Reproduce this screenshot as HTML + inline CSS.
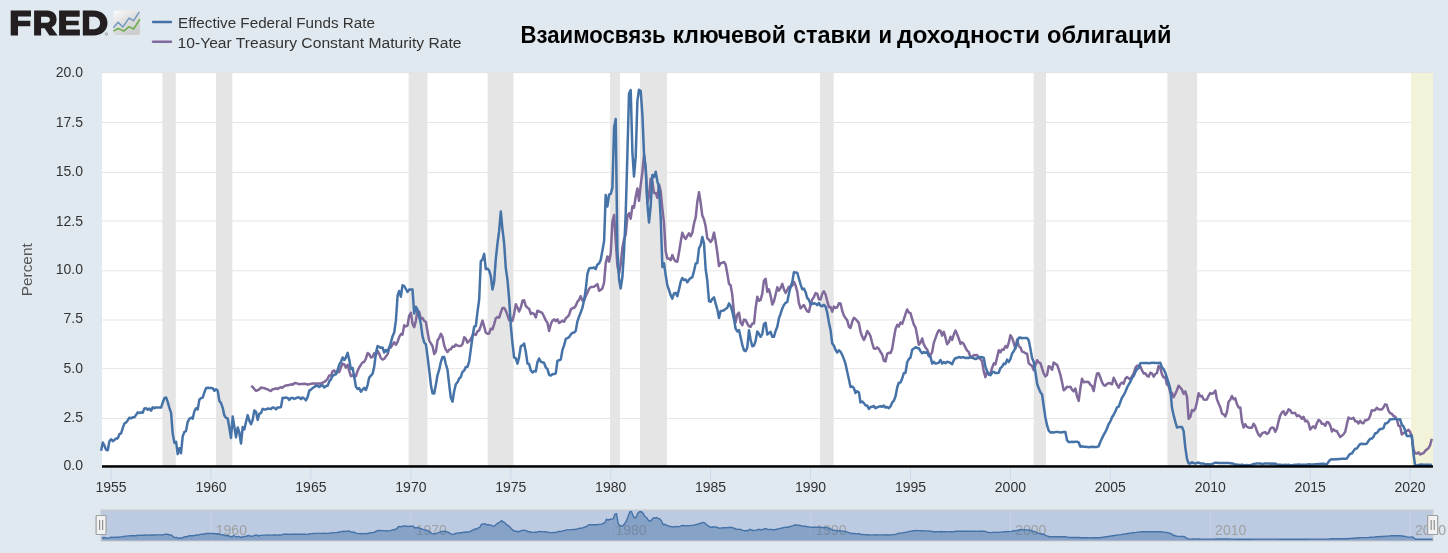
<!DOCTYPE html>
<html><head><meta charset="utf-8"><style>
html,body{margin:0;padding:0;background:#e1e9f0;width:1448px;height:553px;overflow:hidden}
svg{display:block;will-change:transform}
text{font-family:"Liberation Sans",sans-serif}
.ax{font-size:14px;fill:#333333}
.yt{font-size:15px;fill:#555555}
.nav{font-size:14px;fill:#a0a0a0}
.lg{font-size:15.5px;fill:#333333}
.title{font-size:23px;font-weight:bold;fill:#000000}
</style></head><body>
<svg width="1448" height="553" viewBox="0 0 1448 553">

<g fill="#231f20">
 <path d="M10.7 10.4 H31 V16.6 H18 V20.8 H30.3 V26.2 H18 V35.4 H10.7 Z"/>
 <path d="M34.1 10.4 H47 C53.2 10.4 56.6 14 56.6 19.4 C56.6 23.2 54.6 26 51.6 27.2 L57.6 35.4 H49.4 L44.6 28.3 H41.1 V35.4 H34.1 Z M41.1 16.7 V22.7 H46.4 C48.7 22.7 49.9 21.5 49.9 19.7 C49.9 17.9 48.7 16.7 46.4 16.7 Z"/>
 <path d="M59.1 10.4 H79.7 V16.7 H66.1 V20.8 H78.7 V25.3 H66.1 V29.4 H79.9 V35.4 H59.1 Z"/>
 <path d="M82.8 10.4 H93.5 C101.8 10.4 107.5 15.5 107.5 22.9 C107.5 30.3 101.8 35.4 93.5 35.4 H82.8 Z M89.2 16.7 V29.3 H93.2 C97.4 29.3 100.1 26.8 100.1 23 C100.1 19.2 97.4 16.7 93.2 16.7 Z"/>
</g>
<circle cx="106.4" cy="33.9" r="1.2" fill="none" stroke="#8a8a8a" stroke-width="0.7"/>
<defs><linearGradient id="ig" x1="0" y1="0" x2="0.6" y2="1"><stop offset="0" stop-color="#fbfbfb"/><stop offset="0.55" stop-color="#dedede"/><stop offset="1" stop-color="#cdcdcd"/></linearGradient></defs>
<rect x="113.4" y="10.4" width="26.6" height="24.6" rx="2.2" fill="url(#ig)"/>
<polyline points="113.4,27.8 118.1,22.3 122.8,27.1 129,18.1 133.6,20.7 139.3,11.9" fill="none" stroke="#6f98c0" stroke-width="1.4" stroke-linejoin="round"/>
<polyline points="113.4,31.1 118.1,28.5 123.8,31.1 129,26.7 133.6,29 139.9,19.2" fill="none" stroke="#6fae4f" stroke-width="1.6" stroke-linejoin="round"/>

<line x1="153" y1="22" x2="171" y2="22" stroke="#4572A7" stroke-width="2.4" stroke-linecap="round"/>
<line x1="153" y1="41.8" x2="171" y2="41.8" stroke="#80699B" stroke-width="2.4" stroke-linecap="round"/>
<text x="178" y="27.9" class="lg" textLength="197" lengthAdjust="spacingAndGlyphs">Effective Federal Funds Rate</text>
<text x="177.5" y="47.7" class="lg" textLength="284" lengthAdjust="spacingAndGlyphs">10-Year Treasury Constant Maturity Rate</text>
<text x="520.50" y="42.7" class="title" textLength="145.20" lengthAdjust="spacingAndGlyphs">Взаимосвязь</text>
<text x="672.50" y="42.7" class="title" textLength="113.30" lengthAdjust="spacingAndGlyphs">ключевой</text>
<text x="792.90" y="42.7" class="title" textLength="78.30" lengthAdjust="spacingAndGlyphs">ставки</text>
<text x="878.40" y="42.7" class="title" textLength="13.50" lengthAdjust="spacingAndGlyphs">и</text>
<text x="896.90" y="42.7" class="title" textLength="143.10" lengthAdjust="spacingAndGlyphs">доходности</text>
<text x="1047.10" y="42.7" class="title" textLength="124.30" lengthAdjust="spacingAndGlyphs">облигаций</text>

<rect x="102" y="72.9" width="1331" height="393.6" fill="#ffffff"/>
<rect x="102" y="122.0" width="1331" height="1" fill="#e6e6e6"/>
<rect x="102" y="172.0" width="1331" height="1" fill="#e6e6e6"/>
<rect x="102" y="220.5" width="1331" height="1" fill="#e6e6e6"/>
<rect x="102" y="270.3" width="1331" height="1" fill="#e6e6e6"/>
<rect x="102" y="319.5" width="1331" height="1" fill="#e6e6e6"/>
<rect x="102" y="368.1" width="1331" height="1" fill="#e6e6e6"/>
<rect x="102" y="418.0" width="1331" height="1" fill="#e6e6e6"/>
<rect x="162.40" y="72.9" width="13.40" height="393.6" fill="#e5e5e5"/>
<rect x="216.10" y="72.9" width="16.20" height="393.6" fill="#e5e5e5"/>
<rect x="408.60" y="72.9" width="18.90" height="393.6" fill="#e5e5e5"/>
<rect x="487.60" y="72.9" width="25.85" height="393.6" fill="#e5e5e5"/>
<rect x="610.06" y="72.9" width="9.94" height="393.6" fill="#e5e5e5"/>
<rect x="640.06" y="72.9" width="26.90" height="393.6" fill="#e5e5e5"/>
<rect x="819.95" y="72.9" width="13.75" height="393.6" fill="#e5e5e5"/>
<rect x="1033.70" y="72.9" width="12.30" height="393.6" fill="#e5e5e5"/>
<rect x="1167.40" y="72.9" width="29.70" height="393.6" fill="#e5e5e5"/>
<rect x="1411.1" y="72.9" width="21.9" height="393.6" fill="#f3f3da"/>
<rect x="102" y="72.1" width="1331" height="1" fill="#e3e3e3"/>
<path d="M251.0 386.1 L252.7 386.9 L254.3 389.0 L256.0 390.8 L257.7 390.2 L259.3 389.4 L261.0 387.5 L262.7 388.1 L264.3 388.1 L266.0 389.0 L267.6 389.2 L269.3 390.4 L271.0 391.0 L272.6 389.2 L274.3 389.0 L276.0 388.3 L277.6 389.0 L279.3 387.9 L281.0 387.3 L282.6 387.7 L284.3 386.1 L286.0 385.5 L287.6 385.3 L289.3 385.1 L291.0 384.3 L292.6 384.7 L294.3 383.3 L296.0 383.1 L297.6 383.7 L299.3 384.3 L301.0 383.9 L302.6 383.9 L304.3 383.7 L306.0 383.9 L307.6 384.7 L309.3 384.1 L310.9 383.9 L312.6 383.5 L314.3 383.5 L315.9 383.7 L317.6 383.5 L319.3 383.5 L320.9 383.7 L322.6 382.7 L324.3 381.9 L325.9 380.8 L327.6 378.8 L329.3 375.4 L330.9 375.6 L332.6 371.3 L334.3 370.5 L335.9 372.9 L337.6 372.3 L339.3 371.7 L340.9 367.5 L342.6 363.6 L344.3 364.4 L345.9 367.7 L347.6 364.8 L349.3 371.1 L350.9 376.2 L352.6 375.2 L354.3 377.0 L355.9 376.0 L357.6 370.9 L359.2 367.5 L360.9 364.8 L362.6 362.4 L364.2 362.0 L365.9 358.5 L367.6 353.1 L369.2 354.1 L370.9 357.5 L372.6 356.9 L374.2 353.3 L375.9 355.3 L377.6 350.8 L379.2 353.7 L380.9 358.1 L382.6 359.6 L384.2 358.9 L385.9 356.5 L387.6 354.1 L389.2 347.6 L390.9 347.4 L392.6 344.5 L394.2 342.3 L395.9 344.8 L397.6 341.9 L399.2 337.0 L400.9 334.0 L402.5 334.6 L404.2 325.3 L405.9 326.5 L407.5 325.7 L409.2 315.6 L410.9 312.9 L412.5 323.7 L414.2 327.1 L415.9 320.8 L417.5 310.5 L419.2 311.9 L420.9 319.4 L422.5 318.0 L424.2 320.8 L425.9 322.0 L427.5 331.6 L429.2 340.5 L430.9 343.5 L432.5 346.0 L434.2 354.1 L435.9 351.6 L437.5 340.5 L439.2 337.9 L440.9 333.8 L442.5 336.8 L444.2 345.4 L445.8 349.6 L447.5 352.0 L449.2 349.6 L450.8 349.2 L452.5 346.6 L454.2 346.8 L455.8 344.5 L457.5 345.6 L459.2 346.0 L460.8 346.0 L462.5 344.1 L464.2 337.3 L465.8 338.7 L467.5 342.7 L469.2 341.1 L470.8 339.1 L472.5 335.6 L474.2 334.2 L475.8 335.0 L477.5 331.4 L479.2 330.4 L480.8 325.9 L482.5 320.6 L484.2 326.7 L485.8 332.6 L487.5 333.8 L489.1 333.6 L490.8 328.7 L492.5 329.3 L494.1 324.3 L495.8 318.4 L497.5 317.0 L499.1 317.8 L500.8 312.5 L502.5 307.9 L504.1 307.9 L505.8 310.7 L507.5 315.1 L509.1 320.0 L510.8 318.6 L512.5 320.8 L514.1 314.1 L515.8 304.2 L517.5 307.6 L519.1 311.5 L520.8 307.6 L522.5 300.8 L524.1 300.3 L525.8 306.0 L527.5 307.7 L529.1 308.7 L530.8 313.9 L532.5 312.9 L534.1 314.1 L535.8 317.4 L537.4 310.7 L539.1 311.5 L540.8 312.1 L542.4 313.3 L544.1 316.8 L545.8 320.4 L547.4 322.7 L549.1 331.0 L550.8 324.3 L552.4 320.8 L554.1 319.4 L555.8 321.2 L557.4 319.4 L559.1 322.9 L560.8 322.0 L562.4 320.6 L564.1 321.8 L565.8 318.2 L567.4 317.0 L569.1 314.9 L570.8 309.5 L572.4 308.1 L574.1 307.9 L575.8 305.8 L577.4 301.8 L579.1 299.7 L580.7 296.1 L582.4 300.6 L584.1 300.4 L585.7 296.1 L587.4 292.8 L589.1 288.8 L590.7 287.0 L592.4 287.0 L594.1 286.6 L595.7 285.5 L597.4 284.1 L599.1 290.8 L600.7 290.0 L602.4 288.4 L604.1 282.5 L605.7 263.4 L607.4 256.4 L609.1 261.6 L610.7 253.5 L612.4 221.7 L614.1 215.0 L615.7 240.3 L617.4 265.7 L619.1 273.6 L620.7 264.3 L622.4 247.6 L624.0 239.5 L625.7 234.7 L627.4 216.4 L629.0 213.2 L630.7 218.6 L632.4 206.3 L634.0 207.7 L635.7 196.7 L637.4 188.4 L639.0 200.8 L640.7 184.8 L642.4 171.8 L644.0 154.8 L645.7 167.6 L647.4 202.4 L649.0 195.9 L650.7 178.7 L652.4 181.9 L654.0 193.1 L655.7 192.9 L657.4 197.8 L659.0 184.4 L660.7 191.3 L662.4 208.9 L664.0 223.1 L665.7 251.3 L667.3 258.4 L669.0 258.6 L670.7 260.2 L672.3 255.1 L674.0 259.2 L675.7 261.4 L677.3 261.8 L679.0 252.5 L680.7 242.0 L682.3 232.8 L684.0 236.7 L685.7 238.9 L687.3 235.9 L689.0 233.2 L690.7 236.3 L692.3 233.0 L694.0 223.5 L695.7 217.4 L697.3 202.0 L699.0 192.3 L700.7 203.0 L702.3 215.6 L704.0 219.5 L705.7 226.6 L707.3 238.3 L709.0 239.7 L710.6 242.0 L712.3 239.5 L714.0 232.6 L715.6 241.1 L717.3 252.5 L719.0 266.1 L720.6 263.2 L722.3 262.8 L724.0 262.0 L725.6 264.5 L727.3 273.6 L729.0 283.9 L730.6 285.3 L732.3 294.9 L734.0 313.1 L735.6 322.5 L737.3 314.5 L739.0 312.7 L740.6 322.5 L742.3 325.1 L744.0 319.6 L745.6 320.0 L747.3 323.5 L749.0 326.3 L750.6 326.9 L752.3 323.5 L754.0 323.5 L755.6 308.3 L757.3 296.7 L758.9 300.8 L760.6 299.9 L762.3 293.7 L763.9 280.7 L765.6 278.7 L767.3 291.8 L768.9 289.2 L770.6 295.5 L772.3 304.6 L773.9 301.4 L775.6 294.5 L777.3 287.2 L778.9 290.6 L780.6 287.8 L782.3 283.9 L783.9 289.4 L785.6 292.9 L787.3 289.8 L788.9 286.8 L790.6 287.2 L792.3 285.6 L793.9 281.9 L795.6 285.5 L797.3 291.8 L798.9 303.2 L800.6 308.3 L802.2 306.6 L803.9 305.0 L805.6 308.5 L807.2 311.3 L808.9 311.9 L810.6 304.6 L812.2 299.5 L813.9 297.1 L815.6 293.1 L817.2 293.7 L818.9 299.3 L820.6 299.5 L822.2 293.9 L823.9 291.2 L825.6 294.5 L827.2 301.0 L828.9 307.2 L830.6 307.0 L832.2 311.7 L833.9 306.6 L835.6 307.9 L837.2 307.4 L838.9 303.2 L840.6 303.4 L842.2 310.7 L843.9 315.6 L845.5 318.0 L847.2 320.2 L848.9 326.7 L850.5 327.9 L852.2 321.8 L853.9 317.8 L855.5 319.0 L857.2 320.8 L858.9 323.3 L860.5 331.6 L862.2 336.6 L863.9 339.9 L865.5 336.6 L867.2 331.0 L868.9 333.0 L870.5 336.4 L872.2 343.1 L873.9 348.6 L875.5 348.8 L877.2 347.4 L878.9 349.0 L880.5 352.0 L882.2 354.5 L883.9 360.8 L885.5 361.4 L887.2 353.7 L888.8 352.7 L890.5 353.1 L892.2 348.8 L893.8 338.7 L895.5 329.1 L897.2 324.9 L898.8 326.5 L900.5 322.5 L902.2 323.7 L903.8 319.4 L905.5 313.9 L907.2 309.5 L908.8 312.5 L910.5 313.1 L912.2 319.2 L913.8 324.5 L915.5 327.3 L917.2 335.8 L918.8 344.8 L920.5 342.7 L922.2 338.5 L923.8 344.3 L925.5 347.4 L927.2 349.6 L928.8 353.9 L930.5 355.1 L932.2 352.0 L933.8 342.9 L935.5 338.1 L937.1 333.6 L938.8 330.2 L940.5 331.0 L942.1 335.6 L943.8 331.8 L945.5 337.7 L947.1 344.3 L948.8 342.3 L950.5 336.8 L952.1 339.9 L953.8 334.6 L955.5 330.6 L957.1 334.2 L958.8 338.5 L960.5 343.9 L962.1 342.3 L963.8 344.1 L965.5 347.6 L967.1 350.6 L968.8 352.0 L970.5 357.3 L972.1 356.7 L973.8 355.1 L975.5 355.3 L977.1 355.1 L978.8 358.1 L980.4 358.9 L982.1 361.2 L983.8 371.7 L985.4 377.2 L987.1 371.3 L988.8 374.8 L990.4 373.5 L992.1 367.9 L993.8 363.4 L995.4 364.4 L997.1 357.3 L998.8 350.2 L1000.4 352.3 L1002.1 349.4 L1003.8 349.8 L1005.4 346.0 L1007.1 347.6 L1008.8 342.7 L1010.4 335.2 L1012.1 337.9 L1013.8 343.1 L1015.4 348.4 L1017.1 339.5 L1018.8 346.2 L1020.4 347.2 L1022.1 351.6 L1023.7 352.1 L1025.4 353.3 L1027.1 353.7 L1028.7 363.2 L1030.4 364.8 L1032.1 366.0 L1033.7 370.1 L1035.4 365.2 L1037.1 360.2 L1038.7 362.4 L1040.4 363.2 L1042.1 368.5 L1043.7 373.3 L1045.4 376.4 L1047.1 374.8 L1048.7 366.2 L1050.4 367.1 L1052.1 369.7 L1053.7 362.4 L1055.4 363.8 L1057.1 364.8 L1058.7 369.3 L1060.4 374.8 L1062.1 382.5 L1063.7 390.2 L1065.4 388.9 L1067.0 386.7 L1068.7 387.1 L1070.4 386.7 L1072.0 389.6 L1073.7 391.4 L1075.4 388.5 L1077.0 396.2 L1078.7 400.9 L1080.4 388.1 L1082.0 378.8 L1083.7 382.3 L1085.4 381.9 L1087.0 381.7 L1088.7 382.3 L1090.4 384.7 L1092.0 386.1 L1093.7 391.0 L1095.4 380.8 L1097.0 373.5 L1098.7 373.3 L1100.4 377.8 L1102.0 382.1 L1103.7 385.1 L1105.4 385.7 L1107.0 383.9 L1108.7 383.1 L1110.3 383.3 L1112.0 384.3 L1113.7 377.8 L1115.3 381.0 L1117.0 384.9 L1118.7 387.7 L1120.3 384.1 L1122.0 382.5 L1123.7 383.7 L1125.3 378.6 L1127.0 377.0 L1128.7 378.4 L1130.3 379.4 L1132.0 376.4 L1133.7 373.5 L1135.3 368.1 L1137.0 365.8 L1138.7 365.8 L1140.3 366.2 L1142.0 370.3 L1143.7 373.5 L1145.3 373.3 L1147.0 375.8 L1148.7 376.6 L1150.3 372.7 L1152.0 373.5 L1153.7 376.6 L1155.3 374.1 L1157.0 372.9 L1158.6 366.0 L1160.3 367.9 L1162.0 374.4 L1163.6 377.4 L1165.3 377.2 L1167.0 384.7 L1168.6 385.7 L1170.3 392.8 L1172.0 392.8 L1173.6 397.3 L1175.3 394.0 L1177.0 390.0 L1178.6 385.7 L1180.3 387.5 L1182.0 389.8 L1183.6 393.8 L1185.3 391.4 L1187.0 396.9 L1188.6 418.8 L1190.3 416.9 L1192.0 410.0 L1193.6 411.0 L1195.3 408.8 L1197.0 401.7 L1198.6 393.2 L1200.3 396.4 L1201.9 395.8 L1203.6 399.5 L1205.3 399.7 L1206.9 399.5 L1208.6 395.8 L1210.3 393.0 L1211.9 393.8 L1213.6 393.0 L1215.3 390.6 L1216.9 399.1 L1218.6 403.5 L1220.3 407.2 L1221.9 413.3 L1223.6 414.3 L1225.3 416.5 L1226.9 412.1 L1228.6 401.7 L1230.3 399.7 L1231.9 396.0 L1233.6 399.3 L1235.3 398.3 L1236.9 404.0 L1238.6 407.4 L1240.3 407.4 L1241.9 421.2 L1243.6 427.5 L1245.2 424.2 L1246.9 426.9 L1248.6 427.5 L1250.2 427.7 L1251.9 427.7 L1253.6 423.8 L1255.2 426.1 L1256.9 431.1 L1258.6 434.6 L1260.2 436.4 L1261.9 433.4 L1263.6 432.7 L1265.2 432.1 L1266.9 434.0 L1268.6 432.7 L1270.2 428.9 L1271.9 427.5 L1273.6 427.9 L1275.2 431.9 L1276.9 428.5 L1278.6 421.2 L1280.2 415.7 L1281.9 412.5 L1283.6 411.2 L1285.2 414.9 L1286.9 412.9 L1288.5 409.4 L1290.2 410.2 L1291.9 413.1 L1293.5 412.9 L1295.2 413.1 L1296.9 416.1 L1298.5 415.3 L1300.2 416.5 L1301.9 418.8 L1303.5 416.7 L1305.2 421.2 L1306.9 420.6 L1308.5 423.0 L1310.2 429.5 L1311.9 427.5 L1313.5 426.3 L1315.2 428.3 L1316.9 423.2 L1318.5 420.0 L1320.2 420.8 L1321.9 423.8 L1323.5 423.8 L1325.2 425.8 L1326.9 422.0 L1328.5 422.4 L1330.2 425.4 L1331.9 431.5 L1333.5 429.3 L1335.2 430.9 L1336.8 430.9 L1338.5 434.2 L1340.2 437.0 L1341.8 435.8 L1343.5 434.4 L1345.2 431.9 L1346.8 424.4 L1348.5 417.5 L1350.2 418.6 L1351.8 418.8 L1353.5 417.7 L1355.2 421.2 L1356.8 421.2 L1358.5 423.4 L1360.2 420.8 L1361.8 423.0 L1363.5 423.2 L1365.2 420.0 L1366.8 420.2 L1368.5 419.2 L1370.2 415.7 L1371.8 410.2 L1373.5 410.6 L1375.2 410.0 L1376.8 407.8 L1378.5 409.2 L1380.1 409.6 L1381.8 409.6 L1383.5 407.4 L1385.1 404.4 L1386.8 405.0 L1388.5 410.8 L1390.1 413.1 L1391.8 413.7 L1393.5 415.9 L1395.1 416.7 L1396.8 419.2 L1398.5 425.8 L1400.1 426.0 L1401.8 434.4 L1403.5 433.1 L1405.1 432.9 L1406.8 430.9 L1408.5 429.9 L1410.1 431.9 L1411.8 437.0 L1413.5 449.4 L1415.1 453.6 L1416.8 453.4 L1418.5 452.2 L1420.1 454.4 L1421.8 453.8 L1423.4 453.2 L1425.1 451.0 L1426.8 449.4 L1428.4 448.2 L1430.1 445.3 L1431.8 438.8" fill="none" stroke="#80699B" stroke-width="2.5" stroke-linejoin="round"/>
<path d="M101.1 450.8 L102.8 442.5 L104.4 445.5 L106.1 449.8 L107.8 450.2 L109.4 441.3 L111.1 439.2 L112.8 441.1 L114.4 440.0 L116.1 438.4 L117.8 438.4 L119.4 434.2 L121.1 433.4 L122.8 427.9 L124.4 423.6 L126.1 422.4 L127.8 420.2 L129.4 417.7 L131.1 418.3 L132.8 417.3 L134.4 417.3 L136.1 414.9 L137.7 412.3 L139.4 413.1 L141.1 412.3 L142.7 412.7 L144.4 408.4 L146.1 408.2 L147.7 409.8 L149.4 408.6 L151.1 410.6 L152.7 407.4 L154.4 408.2 L156.1 407.4 L157.7 407.4 L159.4 407.4 L161.1 407.6 L162.7 402.7 L164.4 398.1 L166.1 397.5 L167.7 401.9 L169.4 407.8 L171.1 412.9 L172.7 433.6 L174.4 442.9 L176.1 441.7 L177.7 454.2 L179.4 448.2 L181.0 453.2 L182.7 436.4 L184.4 431.9 L186.0 431.1 L187.7 421.8 L189.4 418.8 L191.0 417.7 L192.7 418.6 L194.4 411.3 L196.0 408.2 L197.7 409.4 L199.4 399.7 L201.0 398.1 L202.7 397.5 L204.4 392.4 L206.0 388.1 L207.7 387.7 L209.4 387.9 L211.0 387.9 L212.7 388.3 L214.4 390.8 L216.0 389.2 L217.7 390.6 L219.4 401.1 L221.0 402.9 L222.7 407.8 L224.3 415.3 L226.0 417.9 L227.7 418.5 L229.3 427.5 L231.0 438.0 L232.7 416.5 L234.3 426.7 L236.0 437.2 L237.7 427.5 L239.3 432.5 L241.0 443.5 L242.7 427.1 L244.3 429.5 L246.0 422.0 L247.7 415.1 L249.3 420.6 L251.0 424.2 L252.7 419.8 L254.3 410.4 L256.0 411.7 L257.7 420.0 L259.3 413.7 L261.0 413.1 L262.7 408.8 L264.3 409.4 L266.0 409.4 L267.6 408.6 L269.3 408.8 L271.0 409.0 L272.6 407.4 L274.3 407.8 L276.0 409.4 L277.6 407.4 L279.3 407.6 L281.0 407.0 L282.6 397.7 L284.3 397.9 L286.0 397.5 L287.6 397.9 L289.3 399.9 L291.0 397.9 L292.6 397.9 L294.3 398.9 L296.0 398.1 L297.6 397.5 L299.3 397.5 L301.0 399.1 L302.6 397.5 L304.3 398.5 L306.0 400.3 L307.6 397.1 L309.3 390.6 L310.9 389.6 L312.6 388.1 L314.3 386.9 L315.9 385.9 L317.6 385.7 L319.3 386.9 L320.9 385.9 L322.6 385.3 L324.3 387.5 L325.9 386.1 L327.6 385.7 L329.3 381.4 L330.9 379.4 L332.6 375.8 L334.3 374.8 L335.9 374.4 L337.6 369.9 L339.3 364.6 L340.9 362.0 L342.6 357.5 L344.3 360.0 L345.9 357.5 L347.6 352.9 L349.3 360.0 L350.9 369.1 L352.6 367.9 L354.3 377.2 L355.9 386.7 L357.6 388.9 L359.2 388.1 L360.9 391.8 L362.6 389.6 L364.2 387.9 L365.9 390.0 L367.6 385.1 L369.2 377.6 L370.9 375.6 L372.6 373.7 L374.2 366.9 L375.9 352.9 L377.6 346.0 L379.2 346.8 L380.9 347.8 L382.6 347.6 L384.2 352.5 L385.9 350.0 L387.6 351.8 L389.2 347.8 L390.9 342.3 L392.6 336.2 L394.2 332.6 L395.9 320.4 L397.6 295.5 L399.2 291.0 L400.9 296.7 L402.5 285.3 L404.2 286.0 L405.9 289.0 L407.5 292.0 L409.2 289.6 L410.9 289.4 L412.5 289.4 L414.2 313.5 L415.9 306.8 L417.5 309.7 L419.2 316.4 L420.9 324.3 L422.5 336.2 L424.2 342.5 L425.9 344.3 L427.5 356.1 L429.2 369.9 L430.9 384.9 L432.5 393.2 L434.2 393.4 L435.9 384.5 L437.5 375.2 L439.2 369.7 L440.9 361.8 L442.5 356.9 L444.2 357.1 L445.8 364.0 L447.5 369.7 L449.2 384.9 L450.8 397.5 L452.5 401.7 L454.2 391.0 L455.8 384.3 L457.5 382.3 L459.2 378.6 L460.8 376.8 L462.5 371.9 L464.2 370.5 L465.8 367.1 L467.5 366.8 L469.2 361.4 L470.8 349.4 L472.5 336.8 L474.2 326.7 L475.8 326.1 L477.5 311.9 L479.2 299.1 L480.8 261.4 L482.5 259.4 L484.2 253.9 L485.8 269.1 L487.5 268.7 L489.1 270.3 L490.8 276.2 L492.5 289.6 L494.1 282.1 L495.8 259.2 L497.5 243.4 L499.1 231.2 L500.8 211.6 L502.5 229.6 L504.1 242.8 L505.8 268.1 L507.5 280.1 L509.1 298.3 L510.8 325.9 L512.5 343.5 L514.1 357.3 L515.8 358.3 L517.5 363.6 L519.1 357.1 L520.8 346.2 L522.5 345.4 L524.1 343.5 L525.8 351.8 L527.5 363.6 L529.1 364.0 L530.8 370.5 L532.5 372.5 L534.1 371.1 L535.8 371.5 L537.4 362.2 L539.1 358.5 L540.8 361.8 L542.4 362.2 L544.1 363.0 L545.8 367.5 L547.4 368.9 L549.1 374.8 L550.8 375.6 L552.4 374.2 L554.1 374.1 L555.8 373.3 L557.4 361.0 L559.1 360.2 L560.8 359.6 L562.4 350.2 L564.1 345.4 L565.8 338.9 L567.4 338.1 L569.1 337.2 L570.8 334.4 L572.4 332.8 L574.1 332.6 L575.8 330.6 L577.4 321.4 L579.1 316.6 L580.7 312.5 L582.4 307.9 L584.1 299.9 L585.7 289.8 L587.4 274.0 L589.1 268.7 L590.7 267.9 L592.4 268.1 L594.1 267.5 L595.7 269.1 L597.4 264.5 L599.1 263.5 L600.7 260.0 L602.4 250.7 L604.1 241.1 L605.7 194.9 L607.4 206.5 L609.1 194.7 L610.7 193.9 L612.4 187.8 L614.1 127.4 L615.7 119.1 L617.4 249.9 L619.1 279.7 L620.7 288.4 L622.4 277.0 L624.0 252.1 L625.7 213.8 L627.4 153.8 L629.0 93.6 L630.7 90.1 L632.4 152.3 L634.0 176.5 L635.7 156.4 L637.4 101.1 L639.0 89.7 L640.7 90.9 L642.4 115.0 L644.0 153.4 L645.7 169.0 L647.4 204.0 L649.0 222.5 L650.7 205.7 L652.4 174.9 L654.0 176.9 L655.7 171.8 L657.4 181.5 L659.0 187.4 L660.7 218.2 L662.4 266.9 L664.0 263.2 L665.7 275.0 L667.3 285.1 L669.0 290.0 L670.7 295.3 L672.3 298.7 L674.0 293.5 L675.7 292.9 L677.3 296.3 L679.0 289.4 L680.7 281.7 L682.3 278.0 L684.0 280.1 L685.7 279.5 L687.3 282.3 L689.0 279.7 L690.7 278.0 L692.3 277.4 L694.0 271.0 L695.7 263.5 L697.3 263.0 L699.0 248.4 L700.7 245.0 L702.3 236.9 L704.0 243.6 L705.7 269.5 L707.3 280.5 L709.0 301.2 L710.6 301.8 L712.3 298.9 L714.0 297.3 L715.6 303.4 L717.3 309.3 L719.0 318.0 L720.6 311.1 L722.3 310.7 L724.0 310.3 L725.6 308.9 L727.3 307.7 L729.0 303.4 L730.6 306.0 L732.3 311.5 L734.0 319.0 L735.6 328.7 L737.3 331.4 L739.0 330.0 L740.6 337.2 L742.3 344.8 L744.0 350.4 L745.6 351.2 L747.3 347.4 L749.0 330.2 L750.6 339.7 L752.3 346.2 L754.0 345.6 L755.6 340.9 L757.3 331.4 L758.9 333.8 L760.6 336.8 L762.3 333.8 L763.9 324.1 L765.6 322.7 L767.3 334.6 L768.9 333.0 L770.6 331.8 L772.3 336.8 L773.9 336.8 L775.6 331.0 L777.3 326.7 L778.9 318.4 L780.6 313.7 L782.3 308.5 L783.9 305.0 L785.6 302.8 L787.3 301.8 L788.9 293.7 L790.6 286.6 L792.3 281.9 L793.9 272.2 L795.6 272.4 L797.3 273.0 L798.9 278.5 L800.6 284.3 L802.2 289.2 L803.9 288.6 L805.6 292.2 L807.2 297.9 L808.9 299.9 L810.6 304.2 L812.2 304.0 L813.9 303.2 L815.6 303.6 L817.2 305.2 L818.9 303.0 L820.6 305.8 L822.2 306.2 L823.9 304.8 L825.6 306.6 L827.2 312.5 L828.9 322.4 L830.6 330.2 L832.2 343.3 L833.9 345.8 L835.6 350.0 L837.2 352.5 L838.9 350.2 L840.6 351.8 L842.2 354.9 L843.9 359.1 L845.5 363.8 L847.2 371.7 L848.9 379.2 L850.5 387.1 L852.2 386.5 L853.9 388.1 L855.5 393.0 L857.2 391.2 L858.9 392.4 L860.5 402.5 L862.2 401.5 L863.9 403.1 L865.5 405.4 L867.2 405.6 L868.9 409.0 L870.5 407.0 L872.2 406.8 L873.9 406.0 L875.5 408.2 L877.2 407.4 L878.9 406.6 L880.5 406.2 L882.2 406.8 L883.9 405.6 L885.5 407.6 L887.2 407.0 L888.8 408.2 L890.5 406.4 L892.2 402.5 L893.8 400.7 L895.5 396.4 L897.2 387.5 L898.8 382.7 L900.5 382.5 L902.2 378.4 L903.8 373.3 L905.5 372.7 L907.2 362.2 L908.8 359.1 L910.5 357.5 L912.2 349.8 L913.8 348.6 L915.5 347.2 L917.2 348.0 L918.8 348.2 L920.5 351.2 L922.2 353.3 L923.8 352.1 L925.5 352.9 L927.2 352.1 L928.8 356.1 L930.5 356.9 L932.2 363.6 L933.8 361.8 L935.5 363.6 L937.1 363.2 L938.8 362.6 L940.5 360.0 L942.1 363.6 L943.8 362.0 L945.5 363.2 L947.1 361.8 L948.8 362.2 L950.5 363.0 L952.1 364.2 L953.8 360.2 L955.5 357.9 L957.1 358.1 L958.8 356.9 L960.5 357.7 L962.1 357.3 L963.8 357.3 L965.5 358.1 L967.1 357.7 L968.8 358.1 L970.5 356.9 L972.1 357.9 L973.8 358.3 L975.5 359.1 L977.1 358.3 L978.8 356.9 L980.4 357.3 L982.1 357.1 L983.8 357.9 L985.4 366.6 L987.1 371.3 L988.8 374.2 L990.4 375.2 L992.1 372.7 L993.8 371.7 L995.4 373.1 L997.1 373.1 L998.8 372.7 L1000.4 368.1 L1002.1 366.6 L1003.8 363.6 L1005.4 364.0 L1007.1 359.6 L1008.8 362.0 L1010.4 359.1 L1012.1 353.5 L1013.8 351.2 L1015.4 347.8 L1017.1 342.9 L1018.8 337.7 L1020.4 337.5 L1022.1 338.3 L1023.7 337.9 L1025.4 338.1 L1027.1 338.1 L1028.7 340.3 L1030.4 348.6 L1032.1 358.3 L1033.7 361.8 L1035.4 371.9 L1037.1 383.5 L1038.7 388.3 L1040.4 392.2 L1042.1 394.6 L1043.7 406.0 L1045.4 417.5 L1047.1 425.4 L1048.7 430.7 L1050.4 432.5 L1052.1 432.3 L1053.7 432.5 L1055.4 432.1 L1057.1 432.1 L1058.7 432.1 L1060.4 432.5 L1062.1 432.3 L1063.7 432.1 L1065.4 432.1 L1067.0 440.2 L1068.7 442.1 L1070.4 442.1 L1072.0 441.7 L1073.7 441.9 L1075.4 441.7 L1077.0 441.7 L1078.7 442.5 L1080.4 446.7 L1082.0 446.3 L1083.7 446.7 L1085.4 446.7 L1087.0 446.9 L1088.7 447.3 L1090.4 446.9 L1092.0 446.7 L1093.7 446.9 L1095.4 446.9 L1097.0 446.9 L1098.7 446.3 L1100.4 441.7 L1102.0 438.4 L1103.7 434.8 L1105.4 431.9 L1107.0 428.5 L1108.7 424.0 L1110.3 421.6 L1112.0 417.3 L1113.7 414.7 L1115.3 411.5 L1117.0 407.4 L1118.7 406.6 L1120.3 402.3 L1122.0 397.5 L1123.7 395.2 L1125.3 392.0 L1127.0 387.7 L1128.7 384.5 L1130.3 381.9 L1132.0 378.0 L1133.7 376.0 L1135.3 372.1 L1137.0 369.1 L1138.7 368.1 L1140.3 363.2 L1142.0 363.0 L1143.7 363.0 L1145.3 363.0 L1147.0 363.0 L1148.7 363.2 L1150.3 363.0 L1152.0 362.8 L1153.7 362.8 L1155.3 363.0 L1157.0 363.0 L1158.6 363.0 L1160.3 362.8 L1162.0 367.5 L1163.6 369.1 L1165.3 372.7 L1167.0 378.0 L1168.6 382.9 L1170.3 388.9 L1172.0 407.8 L1173.6 415.1 L1175.3 421.6 L1177.0 427.5 L1178.6 427.1 L1180.3 426.9 L1182.0 427.1 L1183.6 430.9 L1185.3 447.5 L1187.0 458.9 L1188.6 463.4 L1190.3 463.6 L1192.0 462.3 L1193.6 463.0 L1195.3 463.6 L1197.0 463.0 L1198.6 462.5 L1200.3 463.4 L1201.9 463.4 L1203.6 463.6 L1205.3 464.2 L1206.9 464.2 L1208.6 464.2 L1210.3 464.4 L1211.9 464.0 L1213.6 463.4 L1215.3 462.7 L1216.9 462.7 L1218.6 463.0 L1220.3 463.0 L1221.9 462.9 L1223.6 462.9 L1225.3 462.9 L1226.9 462.9 L1228.6 463.0 L1230.3 463.2 L1231.9 463.4 L1233.6 463.8 L1235.3 464.6 L1236.9 464.8 L1238.6 464.8 L1240.3 465.2 L1241.9 464.6 L1243.6 465.0 L1245.2 465.2 L1246.9 465.0 L1248.6 465.2 L1250.2 465.0 L1251.9 464.6 L1253.6 464.0 L1255.2 463.8 L1256.9 463.4 L1258.6 463.4 L1260.2 463.4 L1261.9 464.0 L1263.6 463.8 L1265.2 463.4 L1266.9 463.4 L1268.6 463.4 L1270.2 463.8 L1271.9 463.6 L1273.6 463.8 L1275.2 463.6 L1276.9 464.4 L1278.6 464.8 L1280.2 464.8 L1281.9 465.0 L1283.6 465.0 L1285.2 464.8 L1286.9 465.0 L1288.5 464.8 L1290.2 465.2 L1291.9 465.2 L1293.5 465.0 L1295.2 464.8 L1296.9 464.8 L1298.5 464.6 L1300.2 464.8 L1301.9 464.8 L1303.5 464.8 L1305.2 464.8 L1306.9 464.8 L1308.5 464.2 L1310.2 464.4 L1311.9 464.4 L1313.5 464.4 L1315.2 464.2 L1316.9 464.2 L1318.5 464.0 L1320.2 464.0 L1321.9 463.8 L1323.5 463.8 L1325.2 464.2 L1326.9 464.2 L1328.5 461.9 L1330.2 459.9 L1331.9 459.1 L1333.5 459.5 L1335.2 459.3 L1336.8 459.3 L1338.5 459.1 L1340.2 458.9 L1341.8 458.7 L1343.5 458.7 L1345.2 458.7 L1346.8 458.5 L1348.5 455.9 L1350.2 453.8 L1351.8 453.6 L1353.5 451.0 L1355.2 448.8 L1356.8 448.6 L1358.5 446.1 L1360.2 443.9 L1361.8 443.7 L1363.5 443.9 L1365.2 443.9 L1366.8 443.7 L1368.5 440.9 L1370.2 438.8 L1371.8 438.6 L1373.5 436.8 L1375.2 433.3 L1376.8 433.1 L1378.5 430.7 L1380.1 428.9 L1381.8 428.9 L1383.5 428.1 L1385.1 423.4 L1386.8 423.2 L1388.5 421.8 L1390.1 419.2 L1391.8 419.2 L1393.5 419.0 L1395.1 418.8 L1396.8 419.4 L1398.5 419.6 L1400.1 419.2 L1401.8 424.6 L1403.5 426.3 L1405.1 430.5 L1406.8 436.0 L1408.5 436.0 L1410.1 436.0 L1411.8 435.4 L1413.5 453.8 L1415.1 465.6 L1416.8 465.6 L1418.5 465.0 L1420.1 464.8 L1421.8 464.6 L1423.4 464.8 L1425.1 464.8 L1426.8 464.8 L1428.4 464.8 L1430.1 464.8 L1431.8 465.0" fill="none" stroke="#4572A7" stroke-width="2.5" stroke-linejoin="round"/>
<rect x="102" y="465.2" width="1331" height="2.5" fill="#000"/>
<rect x="110.6" y="468" width="1" height="11" fill="#ccd6eb"/>
<text x="111.1" y="492" text-anchor="middle" class="ax">1955</text>
<rect x="210.5" y="468" width="1" height="11" fill="#ccd6eb"/>
<text x="211.0" y="492" text-anchor="middle" class="ax">1960</text>
<rect x="310.4" y="468" width="1" height="11" fill="#ccd6eb"/>
<text x="310.9" y="492" text-anchor="middle" class="ax">1965</text>
<rect x="410.4" y="468" width="1" height="11" fill="#ccd6eb"/>
<text x="410.9" y="492" text-anchor="middle" class="ax">1970</text>
<rect x="510.3" y="468" width="1" height="11" fill="#ccd6eb"/>
<text x="510.8" y="492" text-anchor="middle" class="ax">1975</text>
<rect x="610.2" y="468" width="1" height="11" fill="#ccd6eb"/>
<text x="610.7" y="492" text-anchor="middle" class="ax">1980</text>
<rect x="710.1" y="468" width="1" height="11" fill="#ccd6eb"/>
<text x="710.6" y="492" text-anchor="middle" class="ax">1985</text>
<rect x="810.1" y="468" width="1" height="11" fill="#ccd6eb"/>
<text x="810.6" y="492" text-anchor="middle" class="ax">1990</text>
<rect x="910.0" y="468" width="1" height="11" fill="#ccd6eb"/>
<text x="910.5" y="492" text-anchor="middle" class="ax">1995</text>
<rect x="1009.9" y="468" width="1" height="11" fill="#ccd6eb"/>
<text x="1010.4" y="492" text-anchor="middle" class="ax">2000</text>
<rect x="1109.8" y="468" width="1" height="11" fill="#ccd6eb"/>
<text x="1110.3" y="492" text-anchor="middle" class="ax">2005</text>
<rect x="1209.8" y="468" width="1" height="11" fill="#ccd6eb"/>
<text x="1210.3" y="492" text-anchor="middle" class="ax">2010</text>
<rect x="1309.7" y="468" width="1" height="11" fill="#ccd6eb"/>
<text x="1310.2" y="492" text-anchor="middle" class="ax">2015</text>
<rect x="1409.6" y="468" width="1" height="11" fill="#ccd6eb"/>
<text x="1410.1" y="492" text-anchor="middle" class="ax">2020</text>
<text x="83" y="469.8" text-anchor="end" class="ax">0.0</text>
<text x="83" y="421.8" text-anchor="end" class="ax">2.5</text>
<text x="83" y="372.8" text-anchor="end" class="ax">5.0</text>
<text x="83" y="322.8" text-anchor="end" class="ax">7.5</text>
<text x="83" y="273.8" text-anchor="end" class="ax">10.0</text>
<text x="83" y="225.8" text-anchor="end" class="ax">12.5</text>
<text x="83" y="175.8" text-anchor="end" class="ax">15.0</text>
<text x="83" y="126.8" text-anchor="end" class="ax">17.5</text>
<text x="83" y="76.8" text-anchor="end" class="ax">20.0</text>
<text transform="translate(32,269.8) rotate(-90)" text-anchor="middle" class="yt" textLength="53" lengthAdjust="spacingAndGlyphs">Percent</text>
<rect x="101" y="510" width="1332" height="31" fill="#bccae2" stroke="#cccccc" stroke-width="1"/>
<rect x="210.5" y="510.5" width="1" height="30.0" fill="#c9d3e6"/>
<text x="215.8" y="534.7" class="nav">1960</text>
<rect x="410.4" y="510.5" width="1" height="30.0" fill="#c9d3e6"/>
<text x="415.7" y="534.7" class="nav">1970</text>
<rect x="610.2" y="510.5" width="1" height="30.0" fill="#c9d3e6"/>
<text x="615.5" y="534.7" class="nav">1980</text>
<rect x="810.1" y="510.5" width="1" height="30.0" fill="#c9d3e6"/>
<text x="815.4" y="534.7" class="nav">1990</text>
<rect x="1009.9" y="510.5" width="1" height="30.0" fill="#c9d3e6"/>
<text x="1015.2" y="534.7" class="nav">2000</text>
<rect x="1209.8" y="510.5" width="1" height="30.0" fill="#c9d3e6"/>
<text x="1215.1" y="534.7" class="nav">2010</text>
<rect x="1409.6" y="510.5" width="1" height="30.0" fill="#c9d3e6"/>
<text x="1414.9" y="534.7" class="nav">2020</text>
<path d="M101.9 538.1 L103.6 537.5 L105.2 537.7 L106.9 538.1 L108.6 538.1 L110.2 537.4 L111.9 537.3 L113.6 537.4 L115.2 537.3 L116.9 537.2 L118.6 537.2 L120.2 536.9 L121.9 536.9 L123.6 536.5 L125.2 536.1 L126.9 536.1 L128.6 535.9 L130.2 535.7 L131.9 535.7 L133.6 535.7 L135.2 535.7 L136.9 535.5 L138.5 535.3 L140.2 535.4 L141.9 535.3 L143.5 535.3 L145.2 535.0 L146.9 535.0 L148.5 535.1 L150.2 535.0 L151.9 535.2 L153.5 534.9 L155.2 535.0 L156.9 534.9 L158.5 534.9 L160.2 534.9 L161.9 535.0 L163.5 534.6 L165.2 534.3 L166.9 534.2 L168.5 534.5 L170.2 535.0 L171.9 535.4 L173.5 536.9 L175.2 537.6 L176.9 537.5 L178.5 538.4 L180.2 538.0 L181.8 538.3 L183.5 537.1 L185.2 536.7 L186.8 536.7 L188.5 536.0 L190.2 535.8 L191.8 535.7 L193.5 535.8 L195.2 535.2 L196.8 535.0 L198.5 535.1 L200.2 534.4 L201.8 534.3 L203.5 534.2 L205.2 533.8 L206.8 533.5 L208.5 533.5 L210.2 533.5 L211.8 533.5 L213.5 533.5 L215.2 533.7 L216.8 533.6 L218.5 533.7 L220.2 534.5 L221.8 534.6 L223.5 535.0 L225.1 535.5 L226.8 535.7 L228.5 535.8 L230.1 536.4 L231.8 537.2 L233.5 535.6 L235.1 536.4 L236.8 537.1 L238.5 536.4 L240.1 536.8 L241.8 537.6 L243.5 536.4 L245.1 536.6 L246.8 536.0 L248.5 535.5 L250.1 535.9 L251.8 536.2 L253.5 535.9 L255.1 535.2 L256.8 535.3 L258.5 535.9 L260.1 535.4 L261.8 535.4 L263.5 535.1 L265.1 535.1 L266.8 535.1 L268.4 535.0 L270.1 535.1 L271.8 535.1 L273.4 534.9 L275.1 535.0 L276.8 535.1 L278.4 534.9 L280.1 535.0 L281.8 534.9 L283.4 534.2 L285.1 534.3 L286.8 534.2 L288.4 534.3 L290.1 534.4 L291.8 534.3 L293.4 534.3 L295.1 534.3 L296.8 534.3 L298.4 534.2 L300.1 534.2 L301.8 534.3 L303.4 534.2 L305.1 534.3 L306.8 534.4 L308.4 534.2 L310.1 533.7 L311.8 533.6 L313.4 533.5 L315.1 533.4 L316.7 533.4 L318.4 533.4 L320.1 533.4 L321.7 533.4 L323.4 533.3 L325.1 533.5 L326.7 533.4 L328.4 533.4 L330.1 533.0 L331.7 532.9 L333.4 532.6 L335.1 532.6 L336.7 532.5 L338.4 532.2 L340.1 531.8 L341.7 531.6 L343.4 531.3 L345.1 531.5 L346.7 531.3 L348.4 530.9 L350.1 531.5 L351.7 532.1 L353.4 532.0 L355.1 532.7 L356.7 533.4 L358.4 533.6 L360.0 533.5 L361.7 533.8 L363.4 533.6 L365.0 533.5 L366.7 533.7 L368.4 533.3 L370.0 532.8 L371.7 532.6 L373.4 532.5 L375.0 532.0 L376.7 530.9 L378.4 530.4 L380.0 530.5 L381.7 530.6 L383.4 530.6 L385.0 530.9 L386.7 530.7 L388.4 530.9 L390.0 530.6 L391.7 530.2 L393.4 529.7 L395.0 529.5 L396.7 528.6 L398.4 526.7 L400.0 526.4 L401.7 526.8 L403.3 526.0 L405.0 526.0 L406.7 526.2 L408.3 526.5 L410.0 526.3 L411.7 526.3 L413.3 526.3 L415.0 528.0 L416.7 527.6 L418.3 527.8 L420.0 528.3 L421.7 528.8 L423.3 529.7 L425.0 530.2 L426.7 530.3 L428.3 531.2 L430.0 532.2 L431.7 533.3 L433.3 533.9 L435.0 533.9 L436.7 533.3 L438.3 532.6 L440.0 532.2 L441.7 531.6 L443.3 531.2 L445.0 531.3 L446.6 531.8 L448.3 532.2 L450.0 533.3 L451.6 534.2 L453.3 534.5 L455.0 533.7 L456.6 533.3 L458.3 533.1 L460.0 532.8 L461.6 532.7 L463.3 532.3 L465.0 532.2 L466.6 532.0 L468.3 532.0 L470.0 531.6 L471.6 530.7 L473.3 529.8 L475.0 529.0 L476.6 529.0 L478.3 527.9 L480.0 527.0 L481.6 524.2 L483.3 524.1 L485.0 523.7 L486.6 524.8 L488.3 524.8 L489.9 524.9 L491.6 525.3 L493.3 526.3 L494.9 525.7 L496.6 524.1 L498.3 522.9 L499.9 522.0 L501.6 520.6 L503.3 521.9 L504.9 522.9 L506.6 524.7 L508.3 525.6 L509.9 526.9 L511.6 529.0 L513.3 530.3 L514.9 531.3 L516.6 531.3 L518.3 531.7 L519.9 531.3 L521.6 530.5 L523.3 530.4 L524.9 530.3 L526.6 530.9 L528.3 531.7 L529.9 531.8 L531.6 532.2 L533.3 532.4 L534.9 532.3 L536.6 532.3 L538.2 531.6 L539.9 531.4 L541.6 531.6 L543.2 531.6 L544.9 531.7 L546.6 532.0 L548.2 532.1 L549.9 532.6 L551.6 532.6 L553.2 532.5 L554.9 532.5 L556.6 532.4 L558.2 531.5 L559.9 531.5 L561.6 531.4 L563.2 530.7 L564.9 530.4 L566.6 529.9 L568.2 529.9 L569.9 529.8 L571.6 529.6 L573.2 529.5 L574.9 529.5 L576.6 529.3 L578.2 528.6 L579.9 528.3 L581.5 528.0 L583.2 527.6 L584.9 527.0 L586.5 526.3 L588.2 525.1 L589.9 524.8 L591.5 524.7 L593.2 524.7 L594.9 524.7 L596.5 524.8 L598.2 524.4 L599.9 524.4 L601.5 524.1 L603.2 523.4 L604.9 522.7 L606.5 519.3 L608.2 520.2 L609.9 519.3 L611.5 519.3 L613.2 518.8 L614.9 514.4 L616.5 513.8 L618.2 523.4 L619.9 525.6 L621.5 526.2 L623.2 525.4 L624.8 523.5 L626.5 520.7 L628.2 516.3 L629.8 511.9 L631.5 511.6 L633.2 516.2 L634.8 518.0 L636.5 516.5 L638.2 512.4 L639.8 511.6 L641.5 511.7 L643.2 513.5 L644.8 516.3 L646.5 517.4 L648.2 520.0 L649.8 521.4 L651.5 520.1 L653.2 517.9 L654.8 518.0 L656.5 517.6 L658.2 518.3 L659.8 518.8 L661.5 521.0 L663.2 524.6 L664.8 524.3 L666.5 525.2 L668.1 526.0 L669.8 526.3 L671.5 526.7 L673.1 527.0 L674.8 526.6 L676.5 526.5 L678.1 526.8 L679.8 526.3 L681.5 525.7 L683.1 525.4 L684.8 525.6 L686.5 525.6 L688.1 525.8 L689.8 525.6 L691.5 525.4 L693.1 525.4 L694.8 524.9 L696.5 524.4 L698.1 524.3 L699.8 523.3 L701.5 523.0 L703.1 522.4 L704.8 522.9 L706.5 524.8 L708.1 525.6 L709.8 527.1 L711.4 527.2 L713.1 527.0 L714.8 526.9 L716.4 527.3 L718.1 527.7 L719.8 528.4 L721.4 527.9 L723.1 527.8 L724.8 527.8 L726.4 527.7 L728.1 527.6 L729.8 527.3 L731.4 527.5 L733.1 527.9 L734.8 528.5 L736.4 529.2 L738.1 529.4 L739.8 529.3 L741.4 529.8 L743.1 530.4 L744.8 530.8 L746.4 530.8 L748.1 530.5 L749.8 529.3 L751.4 530.0 L753.1 530.5 L754.8 530.4 L756.4 530.1 L758.1 529.4 L759.7 529.5 L761.4 529.8 L763.1 529.5 L764.7 528.8 L766.4 528.7 L768.1 529.6 L769.7 529.5 L771.4 529.4 L773.1 529.8 L774.7 529.8 L776.4 529.3 L778.1 529.0 L779.7 528.4 L781.4 528.1 L783.1 527.7 L784.7 527.4 L786.4 527.3 L788.1 527.2 L789.7 526.6 L791.4 526.1 L793.1 525.7 L794.7 525.0 L796.4 525.0 L798.1 525.1 L799.7 525.5 L801.4 525.9 L803.0 526.3 L804.7 526.2 L806.4 526.5 L808.0 526.9 L809.7 527.0 L811.4 527.4 L813.0 527.3 L814.7 527.3 L816.4 527.3 L818.0 527.4 L819.7 527.3 L821.4 527.5 L823.0 527.5 L824.7 527.4 L826.4 527.5 L828.0 528.0 L829.7 528.7 L831.4 529.3 L833.0 530.2 L834.7 530.4 L836.4 530.7 L838.0 530.9 L839.7 530.7 L841.4 530.9 L843.0 531.1 L844.7 531.4 L846.3 531.7 L848.0 532.3 L849.7 532.9 L851.3 533.5 L853.0 533.4 L854.7 533.5 L856.3 533.9 L858.0 533.8 L859.7 533.8 L861.3 534.6 L863.0 534.5 L864.7 534.6 L866.3 534.8 L868.0 534.8 L869.7 535.1 L871.3 534.9 L873.0 534.9 L874.7 534.8 L876.3 535.0 L878.0 534.9 L879.7 534.9 L881.3 534.9 L883.0 534.9 L884.7 534.8 L886.3 535.0 L888.0 534.9 L889.6 535.0 L891.3 534.9 L893.0 534.6 L894.6 534.5 L896.3 534.1 L898.0 533.5 L899.6 533.1 L901.3 533.1 L903.0 532.8 L904.6 532.4 L906.3 532.4 L908.0 531.6 L909.6 531.4 L911.3 531.3 L913.0 530.7 L914.6 530.6 L916.3 530.5 L918.0 530.6 L919.6 530.6 L921.3 530.8 L923.0 531.0 L924.6 530.9 L926.3 530.9 L928.0 530.9 L929.6 531.2 L931.3 531.2 L933.0 531.7 L934.6 531.6 L936.3 531.7 L937.9 531.7 L939.6 531.7 L941.3 531.5 L942.9 531.7 L944.6 531.6 L946.3 531.7 L947.9 531.6 L949.6 531.6 L951.3 531.7 L952.9 531.8 L954.6 531.5 L956.3 531.3 L957.9 531.3 L959.6 531.2 L961.3 531.3 L962.9 531.3 L964.6 531.3 L966.3 531.3 L967.9 531.3 L969.6 531.3 L971.3 531.2 L972.9 531.3 L974.6 531.3 L976.3 531.4 L977.9 531.3 L979.6 531.2 L981.2 531.3 L982.9 531.3 L984.6 531.3 L986.2 531.9 L987.9 532.3 L989.6 532.5 L991.2 532.6 L992.9 532.4 L994.6 532.3 L996.2 532.4 L997.9 532.4 L999.6 532.4 L1001.2 532.1 L1002.9 531.9 L1004.6 531.7 L1006.2 531.8 L1007.9 531.4 L1009.6 531.6 L1011.2 531.4 L1012.9 531.0 L1014.6 530.8 L1016.2 530.6 L1017.9 530.2 L1019.6 529.8 L1021.2 529.8 L1022.9 529.9 L1024.5 529.8 L1026.2 529.9 L1027.9 529.9 L1029.5 530.0 L1031.2 530.6 L1032.9 531.3 L1034.5 531.6 L1036.2 532.3 L1037.9 533.2 L1039.5 533.5 L1041.2 533.8 L1042.9 534.0 L1044.5 534.8 L1046.2 535.7 L1047.9 536.3 L1049.5 536.7 L1051.2 536.8 L1052.9 536.8 L1054.5 536.8 L1056.2 536.8 L1057.9 536.8 L1059.5 536.8 L1061.2 536.8 L1062.9 536.8 L1064.5 536.8 L1066.2 536.8 L1067.8 537.4 L1069.5 537.5 L1071.2 537.5 L1072.8 537.5 L1074.5 537.5 L1076.2 537.5 L1077.8 537.5 L1079.5 537.5 L1081.2 537.8 L1082.8 537.8 L1084.5 537.8 L1086.2 537.8 L1087.8 537.8 L1089.5 537.9 L1091.2 537.8 L1092.8 537.8 L1094.5 537.8 L1096.2 537.8 L1097.8 537.8 L1099.5 537.8 L1101.2 537.5 L1102.8 537.2 L1104.5 537.0 L1106.2 536.7 L1107.8 536.5 L1109.5 536.2 L1111.1 536.0 L1112.8 535.7 L1114.5 535.5 L1116.1 535.3 L1117.8 534.9 L1119.5 534.9 L1121.1 534.6 L1122.8 534.2 L1124.5 534.1 L1126.1 533.8 L1127.8 533.5 L1129.5 533.3 L1131.1 533.1 L1132.8 532.8 L1134.5 532.6 L1136.1 532.4 L1137.8 532.1 L1139.5 532.1 L1141.1 531.7 L1142.8 531.7 L1144.5 531.7 L1146.1 531.7 L1147.8 531.7 L1149.5 531.7 L1151.1 531.7 L1152.8 531.7 L1154.5 531.7 L1156.1 531.7 L1157.8 531.7 L1159.4 531.7 L1161.1 531.7 L1162.8 532.0 L1164.4 532.1 L1166.1 532.4 L1167.8 532.8 L1169.4 533.2 L1171.1 533.6 L1172.8 535.0 L1174.4 535.5 L1176.1 536.0 L1177.8 536.4 L1179.4 536.4 L1181.1 536.4 L1182.8 536.4 L1184.4 536.7 L1186.1 537.9 L1187.8 538.7 L1189.4 539.1 L1191.1 539.1 L1192.8 539.0 L1194.4 539.0 L1196.1 539.1 L1197.8 539.0 L1199.4 539.0 L1201.1 539.1 L1202.7 539.1 L1204.4 539.1 L1206.1 539.1 L1207.7 539.1 L1209.4 539.1 L1211.1 539.1 L1212.7 539.1 L1214.4 539.1 L1216.1 539.0 L1217.7 539.0 L1219.4 539.0 L1221.1 539.0 L1222.7 539.0 L1224.4 539.0 L1226.1 539.0 L1227.7 539.0 L1229.4 539.0 L1231.1 539.1 L1232.7 539.1 L1234.4 539.1 L1236.1 539.2 L1237.7 539.2 L1239.4 539.2 L1241.1 539.2 L1242.7 539.2 L1244.4 539.2 L1246.0 539.2 L1247.7 539.2 L1249.4 539.2 L1251.0 539.2 L1252.7 539.2 L1254.4 539.1 L1256.0 539.1 L1257.7 539.1 L1259.4 539.1 L1261.0 539.1 L1262.7 539.1 L1264.4 539.1 L1266.0 539.1 L1267.7 539.1 L1269.4 539.1 L1271.0 539.1 L1272.7 539.1 L1274.4 539.1 L1276.0 539.1 L1277.7 539.1 L1279.4 539.2 L1281.0 539.2 L1282.7 539.2 L1284.4 539.2 L1286.0 539.2 L1287.7 539.2 L1289.3 539.2 L1291.0 539.2 L1292.7 539.2 L1294.3 539.2 L1296.0 539.2 L1297.7 539.2 L1299.3 539.2 L1301.0 539.2 L1302.7 539.2 L1304.3 539.2 L1306.0 539.2 L1307.7 539.2 L1309.3 539.1 L1311.0 539.1 L1312.7 539.1 L1314.3 539.1 L1316.0 539.1 L1317.7 539.1 L1319.3 539.1 L1321.0 539.1 L1322.7 539.1 L1324.3 539.1 L1326.0 539.1 L1327.7 539.1 L1329.3 539.0 L1331.0 538.8 L1332.7 538.7 L1334.3 538.8 L1336.0 538.8 L1337.6 538.8 L1339.3 538.7 L1341.0 538.7 L1342.6 538.7 L1344.3 538.7 L1346.0 538.7 L1347.6 538.7 L1349.3 538.5 L1351.0 538.4 L1352.6 538.3 L1354.3 538.2 L1356.0 538.0 L1357.6 538.0 L1359.3 537.8 L1361.0 537.6 L1362.6 537.6 L1364.3 537.6 L1366.0 537.6 L1367.6 537.6 L1369.3 537.4 L1371.0 537.3 L1372.6 537.2 L1374.3 537.1 L1376.0 536.8 L1377.6 536.8 L1379.3 536.7 L1380.9 536.5 L1382.6 536.5 L1384.3 536.5 L1385.9 536.1 L1387.6 536.1 L1389.3 536.0 L1390.9 535.8 L1392.6 535.8 L1394.3 535.8 L1395.9 535.8 L1397.6 535.8 L1399.3 535.8 L1400.9 535.8 L1402.6 536.2 L1404.3 536.3 L1405.9 536.6 L1407.6 537.1 L1409.3 537.1 L1410.9 537.1 L1412.6 537.0 L1414.3 538.4 L1415.9 539.2 L1417.6 539.2 L1419.3 539.2 L1420.9 539.2 L1422.6 539.2 L1424.2 539.2 L1425.9 539.2 L1427.6 539.2 L1429.2 539.2 L1430.9 539.2 L1432.6 539.2 L1432.6 540.5 L101.9 540.5 Z" fill="#4572A7" fill-opacity="0.45" stroke="none"/>
<path d="M101.9 538.1 L103.6 537.5 L105.2 537.7 L106.9 538.1 L108.6 538.1 L110.2 537.4 L111.9 537.3 L113.6 537.4 L115.2 537.3 L116.9 537.2 L118.6 537.2 L120.2 536.9 L121.9 536.9 L123.6 536.5 L125.2 536.1 L126.9 536.1 L128.6 535.9 L130.2 535.7 L131.9 535.7 L133.6 535.7 L135.2 535.7 L136.9 535.5 L138.5 535.3 L140.2 535.4 L141.9 535.3 L143.5 535.3 L145.2 535.0 L146.9 535.0 L148.5 535.1 L150.2 535.0 L151.9 535.2 L153.5 534.9 L155.2 535.0 L156.9 534.9 L158.5 534.9 L160.2 534.9 L161.9 535.0 L163.5 534.6 L165.2 534.3 L166.9 534.2 L168.5 534.5 L170.2 535.0 L171.9 535.4 L173.5 536.9 L175.2 537.6 L176.9 537.5 L178.5 538.4 L180.2 538.0 L181.8 538.3 L183.5 537.1 L185.2 536.7 L186.8 536.7 L188.5 536.0 L190.2 535.8 L191.8 535.7 L193.5 535.8 L195.2 535.2 L196.8 535.0 L198.5 535.1 L200.2 534.4 L201.8 534.3 L203.5 534.2 L205.2 533.8 L206.8 533.5 L208.5 533.5 L210.2 533.5 L211.8 533.5 L213.5 533.5 L215.2 533.7 L216.8 533.6 L218.5 533.7 L220.2 534.5 L221.8 534.6 L223.5 535.0 L225.1 535.5 L226.8 535.7 L228.5 535.8 L230.1 536.4 L231.8 537.2 L233.5 535.6 L235.1 536.4 L236.8 537.1 L238.5 536.4 L240.1 536.8 L241.8 537.6 L243.5 536.4 L245.1 536.6 L246.8 536.0 L248.5 535.5 L250.1 535.9 L251.8 536.2 L253.5 535.9 L255.1 535.2 L256.8 535.3 L258.5 535.9 L260.1 535.4 L261.8 535.4 L263.5 535.1 L265.1 535.1 L266.8 535.1 L268.4 535.0 L270.1 535.1 L271.8 535.1 L273.4 534.9 L275.1 535.0 L276.8 535.1 L278.4 534.9 L280.1 535.0 L281.8 534.9 L283.4 534.2 L285.1 534.3 L286.8 534.2 L288.4 534.3 L290.1 534.4 L291.8 534.3 L293.4 534.3 L295.1 534.3 L296.8 534.3 L298.4 534.2 L300.1 534.2 L301.8 534.3 L303.4 534.2 L305.1 534.3 L306.8 534.4 L308.4 534.2 L310.1 533.7 L311.8 533.6 L313.4 533.5 L315.1 533.4 L316.7 533.4 L318.4 533.4 L320.1 533.4 L321.7 533.4 L323.4 533.3 L325.1 533.5 L326.7 533.4 L328.4 533.4 L330.1 533.0 L331.7 532.9 L333.4 532.6 L335.1 532.6 L336.7 532.5 L338.4 532.2 L340.1 531.8 L341.7 531.6 L343.4 531.3 L345.1 531.5 L346.7 531.3 L348.4 530.9 L350.1 531.5 L351.7 532.1 L353.4 532.0 L355.1 532.7 L356.7 533.4 L358.4 533.6 L360.0 533.5 L361.7 533.8 L363.4 533.6 L365.0 533.5 L366.7 533.7 L368.4 533.3 L370.0 532.8 L371.7 532.6 L373.4 532.5 L375.0 532.0 L376.7 530.9 L378.4 530.4 L380.0 530.5 L381.7 530.6 L383.4 530.6 L385.0 530.9 L386.7 530.7 L388.4 530.9 L390.0 530.6 L391.7 530.2 L393.4 529.7 L395.0 529.5 L396.7 528.6 L398.4 526.7 L400.0 526.4 L401.7 526.8 L403.3 526.0 L405.0 526.0 L406.7 526.2 L408.3 526.5 L410.0 526.3 L411.7 526.3 L413.3 526.3 L415.0 528.0 L416.7 527.6 L418.3 527.8 L420.0 528.3 L421.7 528.8 L423.3 529.7 L425.0 530.2 L426.7 530.3 L428.3 531.2 L430.0 532.2 L431.7 533.3 L433.3 533.9 L435.0 533.9 L436.7 533.3 L438.3 532.6 L440.0 532.2 L441.7 531.6 L443.3 531.2 L445.0 531.3 L446.6 531.8 L448.3 532.2 L450.0 533.3 L451.6 534.2 L453.3 534.5 L455.0 533.7 L456.6 533.3 L458.3 533.1 L460.0 532.8 L461.6 532.7 L463.3 532.3 L465.0 532.2 L466.6 532.0 L468.3 532.0 L470.0 531.6 L471.6 530.7 L473.3 529.8 L475.0 529.0 L476.6 529.0 L478.3 527.9 L480.0 527.0 L481.6 524.2 L483.3 524.1 L485.0 523.7 L486.6 524.8 L488.3 524.8 L489.9 524.9 L491.6 525.3 L493.3 526.3 L494.9 525.7 L496.6 524.1 L498.3 522.9 L499.9 522.0 L501.6 520.6 L503.3 521.9 L504.9 522.9 L506.6 524.7 L508.3 525.6 L509.9 526.9 L511.6 529.0 L513.3 530.3 L514.9 531.3 L516.6 531.3 L518.3 531.7 L519.9 531.3 L521.6 530.5 L523.3 530.4 L524.9 530.3 L526.6 530.9 L528.3 531.7 L529.9 531.8 L531.6 532.2 L533.3 532.4 L534.9 532.3 L536.6 532.3 L538.2 531.6 L539.9 531.4 L541.6 531.6 L543.2 531.6 L544.9 531.7 L546.6 532.0 L548.2 532.1 L549.9 532.6 L551.6 532.6 L553.2 532.5 L554.9 532.5 L556.6 532.4 L558.2 531.5 L559.9 531.5 L561.6 531.4 L563.2 530.7 L564.9 530.4 L566.6 529.9 L568.2 529.9 L569.9 529.8 L571.6 529.6 L573.2 529.5 L574.9 529.5 L576.6 529.3 L578.2 528.6 L579.9 528.3 L581.5 528.0 L583.2 527.6 L584.9 527.0 L586.5 526.3 L588.2 525.1 L589.9 524.8 L591.5 524.7 L593.2 524.7 L594.9 524.7 L596.5 524.8 L598.2 524.4 L599.9 524.4 L601.5 524.1 L603.2 523.4 L604.9 522.7 L606.5 519.3 L608.2 520.2 L609.9 519.3 L611.5 519.3 L613.2 518.8 L614.9 514.4 L616.5 513.8 L618.2 523.4 L619.9 525.6 L621.5 526.2 L623.2 525.4 L624.8 523.5 L626.5 520.7 L628.2 516.3 L629.8 511.9 L631.5 511.6 L633.2 516.2 L634.8 518.0 L636.5 516.5 L638.2 512.4 L639.8 511.6 L641.5 511.7 L643.2 513.5 L644.8 516.3 L646.5 517.4 L648.2 520.0 L649.8 521.4 L651.5 520.1 L653.2 517.9 L654.8 518.0 L656.5 517.6 L658.2 518.3 L659.8 518.8 L661.5 521.0 L663.2 524.6 L664.8 524.3 L666.5 525.2 L668.1 526.0 L669.8 526.3 L671.5 526.7 L673.1 527.0 L674.8 526.6 L676.5 526.5 L678.1 526.8 L679.8 526.3 L681.5 525.7 L683.1 525.4 L684.8 525.6 L686.5 525.6 L688.1 525.8 L689.8 525.6 L691.5 525.4 L693.1 525.4 L694.8 524.9 L696.5 524.4 L698.1 524.3 L699.8 523.3 L701.5 523.0 L703.1 522.4 L704.8 522.9 L706.5 524.8 L708.1 525.6 L709.8 527.1 L711.4 527.2 L713.1 527.0 L714.8 526.9 L716.4 527.3 L718.1 527.7 L719.8 528.4 L721.4 527.9 L723.1 527.8 L724.8 527.8 L726.4 527.7 L728.1 527.6 L729.8 527.3 L731.4 527.5 L733.1 527.9 L734.8 528.5 L736.4 529.2 L738.1 529.4 L739.8 529.3 L741.4 529.8 L743.1 530.4 L744.8 530.8 L746.4 530.8 L748.1 530.5 L749.8 529.3 L751.4 530.0 L753.1 530.5 L754.8 530.4 L756.4 530.1 L758.1 529.4 L759.7 529.5 L761.4 529.8 L763.1 529.5 L764.7 528.8 L766.4 528.7 L768.1 529.6 L769.7 529.5 L771.4 529.4 L773.1 529.8 L774.7 529.8 L776.4 529.3 L778.1 529.0 L779.7 528.4 L781.4 528.1 L783.1 527.7 L784.7 527.4 L786.4 527.3 L788.1 527.2 L789.7 526.6 L791.4 526.1 L793.1 525.7 L794.7 525.0 L796.4 525.0 L798.1 525.1 L799.7 525.5 L801.4 525.9 L803.0 526.3 L804.7 526.2 L806.4 526.5 L808.0 526.9 L809.7 527.0 L811.4 527.4 L813.0 527.3 L814.7 527.3 L816.4 527.3 L818.0 527.4 L819.7 527.3 L821.4 527.5 L823.0 527.5 L824.7 527.4 L826.4 527.5 L828.0 528.0 L829.7 528.7 L831.4 529.3 L833.0 530.2 L834.7 530.4 L836.4 530.7 L838.0 530.9 L839.7 530.7 L841.4 530.9 L843.0 531.1 L844.7 531.4 L846.3 531.7 L848.0 532.3 L849.7 532.9 L851.3 533.5 L853.0 533.4 L854.7 533.5 L856.3 533.9 L858.0 533.8 L859.7 533.8 L861.3 534.6 L863.0 534.5 L864.7 534.6 L866.3 534.8 L868.0 534.8 L869.7 535.1 L871.3 534.9 L873.0 534.9 L874.7 534.8 L876.3 535.0 L878.0 534.9 L879.7 534.9 L881.3 534.9 L883.0 534.9 L884.7 534.8 L886.3 535.0 L888.0 534.9 L889.6 535.0 L891.3 534.9 L893.0 534.6 L894.6 534.5 L896.3 534.1 L898.0 533.5 L899.6 533.1 L901.3 533.1 L903.0 532.8 L904.6 532.4 L906.3 532.4 L908.0 531.6 L909.6 531.4 L911.3 531.3 L913.0 530.7 L914.6 530.6 L916.3 530.5 L918.0 530.6 L919.6 530.6 L921.3 530.8 L923.0 531.0 L924.6 530.9 L926.3 530.9 L928.0 530.9 L929.6 531.2 L931.3 531.2 L933.0 531.7 L934.6 531.6 L936.3 531.7 L937.9 531.7 L939.6 531.7 L941.3 531.5 L942.9 531.7 L944.6 531.6 L946.3 531.7 L947.9 531.6 L949.6 531.6 L951.3 531.7 L952.9 531.8 L954.6 531.5 L956.3 531.3 L957.9 531.3 L959.6 531.2 L961.3 531.3 L962.9 531.3 L964.6 531.3 L966.3 531.3 L967.9 531.3 L969.6 531.3 L971.3 531.2 L972.9 531.3 L974.6 531.3 L976.3 531.4 L977.9 531.3 L979.6 531.2 L981.2 531.3 L982.9 531.3 L984.6 531.3 L986.2 531.9 L987.9 532.3 L989.6 532.5 L991.2 532.6 L992.9 532.4 L994.6 532.3 L996.2 532.4 L997.9 532.4 L999.6 532.4 L1001.2 532.1 L1002.9 531.9 L1004.6 531.7 L1006.2 531.8 L1007.9 531.4 L1009.6 531.6 L1011.2 531.4 L1012.9 531.0 L1014.6 530.8 L1016.2 530.6 L1017.9 530.2 L1019.6 529.8 L1021.2 529.8 L1022.9 529.9 L1024.5 529.8 L1026.2 529.9 L1027.9 529.9 L1029.5 530.0 L1031.2 530.6 L1032.9 531.3 L1034.5 531.6 L1036.2 532.3 L1037.9 533.2 L1039.5 533.5 L1041.2 533.8 L1042.9 534.0 L1044.5 534.8 L1046.2 535.7 L1047.9 536.3 L1049.5 536.7 L1051.2 536.8 L1052.9 536.8 L1054.5 536.8 L1056.2 536.8 L1057.9 536.8 L1059.5 536.8 L1061.2 536.8 L1062.9 536.8 L1064.5 536.8 L1066.2 536.8 L1067.8 537.4 L1069.5 537.5 L1071.2 537.5 L1072.8 537.5 L1074.5 537.5 L1076.2 537.5 L1077.8 537.5 L1079.5 537.5 L1081.2 537.8 L1082.8 537.8 L1084.5 537.8 L1086.2 537.8 L1087.8 537.8 L1089.5 537.9 L1091.2 537.8 L1092.8 537.8 L1094.5 537.8 L1096.2 537.8 L1097.8 537.8 L1099.5 537.8 L1101.2 537.5 L1102.8 537.2 L1104.5 537.0 L1106.2 536.7 L1107.8 536.5 L1109.5 536.2 L1111.1 536.0 L1112.8 535.7 L1114.5 535.5 L1116.1 535.3 L1117.8 534.9 L1119.5 534.9 L1121.1 534.6 L1122.8 534.2 L1124.5 534.1 L1126.1 533.8 L1127.8 533.5 L1129.5 533.3 L1131.1 533.1 L1132.8 532.8 L1134.5 532.6 L1136.1 532.4 L1137.8 532.1 L1139.5 532.1 L1141.1 531.7 L1142.8 531.7 L1144.5 531.7 L1146.1 531.7 L1147.8 531.7 L1149.5 531.7 L1151.1 531.7 L1152.8 531.7 L1154.5 531.7 L1156.1 531.7 L1157.8 531.7 L1159.4 531.7 L1161.1 531.7 L1162.8 532.0 L1164.4 532.1 L1166.1 532.4 L1167.8 532.8 L1169.4 533.2 L1171.1 533.6 L1172.8 535.0 L1174.4 535.5 L1176.1 536.0 L1177.8 536.4 L1179.4 536.4 L1181.1 536.4 L1182.8 536.4 L1184.4 536.7 L1186.1 537.9 L1187.8 538.7 L1189.4 539.1 L1191.1 539.1 L1192.8 539.0 L1194.4 539.0 L1196.1 539.1 L1197.8 539.0 L1199.4 539.0 L1201.1 539.1 L1202.7 539.1 L1204.4 539.1 L1206.1 539.1 L1207.7 539.1 L1209.4 539.1 L1211.1 539.1 L1212.7 539.1 L1214.4 539.1 L1216.1 539.0 L1217.7 539.0 L1219.4 539.0 L1221.1 539.0 L1222.7 539.0 L1224.4 539.0 L1226.1 539.0 L1227.7 539.0 L1229.4 539.0 L1231.1 539.1 L1232.7 539.1 L1234.4 539.1 L1236.1 539.2 L1237.7 539.2 L1239.4 539.2 L1241.1 539.2 L1242.7 539.2 L1244.4 539.2 L1246.0 539.2 L1247.7 539.2 L1249.4 539.2 L1251.0 539.2 L1252.7 539.2 L1254.4 539.1 L1256.0 539.1 L1257.7 539.1 L1259.4 539.1 L1261.0 539.1 L1262.7 539.1 L1264.4 539.1 L1266.0 539.1 L1267.7 539.1 L1269.4 539.1 L1271.0 539.1 L1272.7 539.1 L1274.4 539.1 L1276.0 539.1 L1277.7 539.1 L1279.4 539.2 L1281.0 539.2 L1282.7 539.2 L1284.4 539.2 L1286.0 539.2 L1287.7 539.2 L1289.3 539.2 L1291.0 539.2 L1292.7 539.2 L1294.3 539.2 L1296.0 539.2 L1297.7 539.2 L1299.3 539.2 L1301.0 539.2 L1302.7 539.2 L1304.3 539.2 L1306.0 539.2 L1307.7 539.2 L1309.3 539.1 L1311.0 539.1 L1312.7 539.1 L1314.3 539.1 L1316.0 539.1 L1317.7 539.1 L1319.3 539.1 L1321.0 539.1 L1322.7 539.1 L1324.3 539.1 L1326.0 539.1 L1327.7 539.1 L1329.3 539.0 L1331.0 538.8 L1332.7 538.7 L1334.3 538.8 L1336.0 538.8 L1337.6 538.8 L1339.3 538.7 L1341.0 538.7 L1342.6 538.7 L1344.3 538.7 L1346.0 538.7 L1347.6 538.7 L1349.3 538.5 L1351.0 538.4 L1352.6 538.3 L1354.3 538.2 L1356.0 538.0 L1357.6 538.0 L1359.3 537.8 L1361.0 537.6 L1362.6 537.6 L1364.3 537.6 L1366.0 537.6 L1367.6 537.6 L1369.3 537.4 L1371.0 537.3 L1372.6 537.2 L1374.3 537.1 L1376.0 536.8 L1377.6 536.8 L1379.3 536.7 L1380.9 536.5 L1382.6 536.5 L1384.3 536.5 L1385.9 536.1 L1387.6 536.1 L1389.3 536.0 L1390.9 535.8 L1392.6 535.8 L1394.3 535.8 L1395.9 535.8 L1397.6 535.8 L1399.3 535.8 L1400.9 535.8 L1402.6 536.2 L1404.3 536.3 L1405.9 536.6 L1407.6 537.1 L1409.3 537.1 L1410.9 537.1 L1412.6 537.0 L1414.3 538.4 L1415.9 539.2 L1417.6 539.2 L1419.3 539.2 L1420.9 539.2 L1422.6 539.2 L1424.2 539.2 L1425.9 539.2 L1427.6 539.2 L1429.2 539.2 L1430.9 539.2 L1432.6 539.2" fill="none" stroke="#4572A7" stroke-width="1.4"/>
<rect x="96.1" y="515.5" width="10" height="19" rx="0.8" fill="#f2f2f2" stroke="#a0a0a0" stroke-width="1.2"/>
<rect x="99.0" y="520" width="1.2" height="10" fill="#8f8f8f"/>
<rect x="102.0" y="520" width="1.2" height="10" fill="#8f8f8f"/>
<rect x="1427.7" y="515.5" width="10" height="19" rx="0.8" fill="#f2f2f2" stroke="#a0a0a0" stroke-width="1.2"/>
<rect x="1430.6" y="520" width="1.2" height="10" fill="#8f8f8f"/>
<rect x="1433.6" y="520" width="1.2" height="10" fill="#8f8f8f"/>
</svg>
</body></html>
